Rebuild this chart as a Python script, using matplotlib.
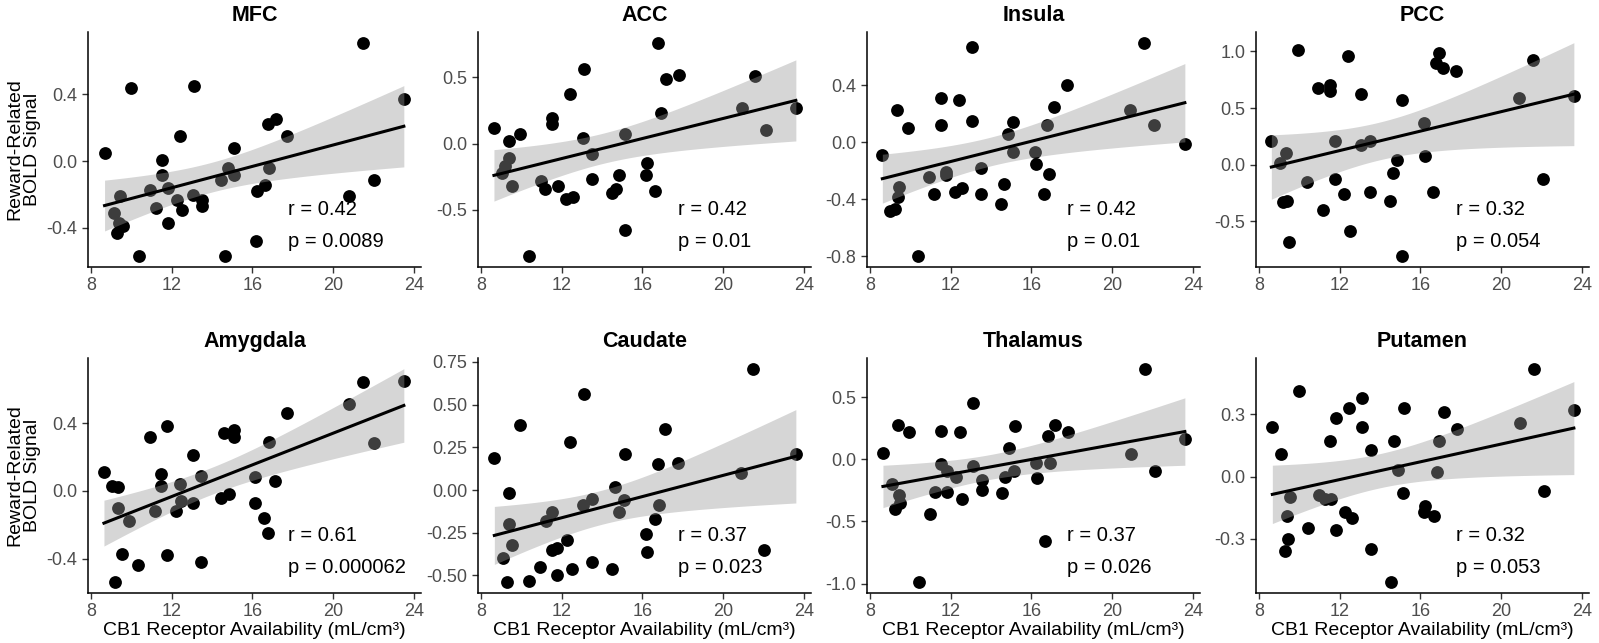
import numpy as np
import matplotlib
matplotlib.use("Agg")
import matplotlib.pyplot as plt
from matplotlib.ticker import FormatStrFormatter

plt.rcParams['font.family'] = ['Liberation Sans', 'DejaVu Sans']
plt.rcParams['axes.unicode_minus'] = False

titles = ["MFC", "ACC", "Insula", "PCC", "Amygdala", "Caudate", "Thalamus", "Putamen"]
r_text = ["0.42", "0.42", "0.42", "0.32", "0.61", "0.37", "0.37", "0.32"]
p_text = ["0.0089", "0.01", "0.01", "0.054", "0.000062", "0.023", "0.026", "0.053"]

mfc_x = [8.67,9.98,9.12,9.28,9.42,9.4,9.6,10.4,10.94,11.23,11.52,11.52,11.79,11.79,12.27,12.43,12.5,13.1,13.06,13.49,13.49,14.45,14.8,14.65,15.1,15.1,16.2,16.15,16.63,16.75,17.15,16.8,17.7,20.8,21.5,22.0,23.5]
mfc_y = [0.05,0.44,-0.31,-0.43,-0.21,-0.37,-0.39,-0.57,-0.17,-0.28,0.01,-0.08,-0.16,-0.37,-0.23,0.15,-0.29,0.45,-0.20,-0.23,-0.27,-0.11,-0.04,-0.57,0.08,-0.08,-0.18,-0.48,-0.14,0.22,0.25,-0.04,0.15,-0.21,0.71,-0.11,0.37]

acc_x = [8.64,9.93,9.37,9.4,9.2,9.05,9.53,10.4,10.95,11.19,11.51,11.54,11.79,12.23,12.43,12.56,13.1,13.07,13.52,13.52,14.48,14.67,14.83,15.13,15.12,16.2,16.17,16.64,16.9,16.78,17.15,17.8,20.93,21.57,22.1,23.6]
acc_y = [0.12,0.07,0.02,-0.11,-0.17,-0.22,-0.32,-0.85,-0.28,-0.34,0.19,0.15,-0.32,-0.42,0.37,-0.40,0.56,0.04,-0.08,-0.27,-0.37,-0.34,-0.24,0.07,-0.65,-0.15,-0.24,-0.36,0.23,0.76,0.49,0.52,0.27,0.51,0.10,0.27]

ins_x = [8.61,9.9,9.34,9.45,9.37,9.01,9.24,10.37,10.9,11.19,11.5,11.51,11.75,11.75,12.22,12.43,12.56,13.07,13.04,13.5,13.5,14.47,14.65,14.83,15.1,15.07,16.16,16.2,16.64,16.77,16.85,17.13,17.77,20.88,21.56,22.06,23.6]
ins_y = [-0.09,0.10,0.23,-0.31,-0.38,-0.48,-0.47,-0.80,-0.24,-0.36,0.31,0.12,-0.21,-0.23,-0.35,0.30,-0.32,0.67,0.15,-0.18,-0.36,-0.43,-0.29,0.06,0.14,-0.07,-0.07,-0.15,-0.36,0.12,-0.22,0.25,0.40,0.23,0.70,0.12,-0.01]

pcc_x = [8.61,9.93,9.34,9.05,9.2,9.4,9.5,10.37,10.9,11.19,11.5,11.54,11.75,11.75,12.22,12.43,12.51,13.07,13.04,13.5,13.5,14.47,14.65,14.83,15.1,15.07,16.16,16.2,16.62,16.77,16.9,17.13,17.77,20.88,21.56,22.06,23.6]
pcc_y = [0.21,1.01,0.10,0.01,-0.33,-0.32,-0.68,-0.15,0.68,-0.40,0.65,0.70,0.21,-0.13,-0.26,0.96,-0.59,0.62,0.17,0.21,-0.24,-0.32,-0.07,0.04,0.57,-0.81,0.37,0.08,-0.24,0.90,0.99,0.85,0.83,0.59,0.92,-0.13,0.61]

amy_x = [8.64,9.04,9.36,9.36,9.52,9.2,9.9,10.35,10.9,11.16,11.48,11.46,11.75,11.75,12.23,12.4,12.46,13.06,13.03,13.46,13.46,14.43,14.83,14.6,15.07,15.07,16.1,16.14,16.57,16.78,16.8,17.13,17.72,20.8,21.47,22.0,23.5]
amy_y = [0.11,0.03,0.02,-0.10,-0.37,-0.54,-0.18,-0.44,0.32,-0.12,0.10,0.03,0.38,-0.38,-0.12,0.04,-0.06,0.21,-0.07,0.09,-0.42,-0.04,-0.02,0.34,0.36,0.32,0.08,-0.07,-0.16,-0.25,0.29,0.06,0.46,0.51,0.64,0.28,0.65]

cau_x = [8.66,9.95,9.4,9.37,9.52,9.07,9.29,10.36,10.94,11.22,11.5,11.5,11.77,11.77,12.25,12.41,12.51,13.09,13.07,13.5,13.5,14.48,14.65,14.83,15.07,15.11,16.18,16.21,16.63,16.76,16.84,17.14,17.75,20.86,21.5,22.02,23.6]
cau_y = [0.19,0.38,-0.02,-0.20,-0.32,-0.40,-0.54,-0.53,-0.45,-0.18,-0.13,-0.35,-0.34,-0.50,-0.29,0.28,-0.46,0.56,-0.09,-0.05,-0.42,-0.46,0.02,-0.13,-0.06,0.21,-0.26,-0.36,-0.17,0.15,-0.09,0.36,0.16,0.10,0.71,-0.35,0.21]

tha_x = [8.64,9.95,9.37,9.1,9.42,9.5,9.26,10.42,10.95,11.22,11.54,11.54,11.83,11.8,12.27,12.44,12.56,13.12,13.09,13.56,13.56,14.52,14.7,14.89,15.17,15.13,16.21,16.26,16.66,16.82,16.9,17.18,17.82,20.93,21.6,22.1,23.6]
tha_y = [0.05,0.22,0.28,-0.20,-0.29,-0.35,-0.40,-0.99,-0.44,-0.26,0.23,-0.04,-0.09,-0.26,-0.14,0.22,-0.32,0.45,-0.05,-0.17,-0.25,-0.27,-0.14,0.09,0.27,-0.09,-0.03,-0.15,-0.66,0.19,-0.03,0.28,0.22,0.04,0.73,-0.09,0.16]

put_x = [8.66,9.98,9.1,9.53,9.39,9.45,9.29,10.42,10.95,11.27,11.54,11.59,11.83,11.8,12.27,12.44,12.6,13.12,13.09,13.56,13.56,14.52,14.7,14.89,15.17,15.13,16.21,16.18,16.66,16.9,16.82,17.18,17.82,20.93,21.6,22.1,23.6]
put_y = [0.24,0.41,0.11,-0.10,-0.19,-0.30,-0.36,-0.25,-0.09,-0.11,0.17,-0.11,0.28,-0.26,-0.17,0.33,-0.20,0.38,0.24,0.13,-0.35,-0.51,0.17,0.03,0.33,-0.08,-0.14,-0.17,-0.19,0.17,0.02,0.31,0.23,0.26,0.52,-0.07,0.32]

xs = [mfc_x, acc_x, ins_x, pcc_x, amy_x, cau_x, tha_x, put_x]
ys = [mfc_y, acc_y, ins_y, pcc_y, amy_y, cau_y, tha_y, put_y]
yticks = [[-0.4,0,0.4],[-0.5,0,0.5],[-0.8,-0.4,0,0.4],[-0.5,0,0.5,1.0],
          [-0.4,0,0.4],[-0.5,-0.25,0,0.25,0.5,0.75],[-1.0,-0.5,0,0.5],[-0.3,0,0.3]]

fig = plt.figure(figsize=(15.99, 6.43), dpi=100)
W, H = 1599, 643
lefts = [88, 478, 867, 1256]
tops = [32, 358]
aw, ah = 333, 235

for i in range(8):
    row, col = divmod(i, 4)
    ax = fig.add_axes([lefts[col]/W, 1-(tops[row]+ah)/H, aw/W, ah/H])
    x = np.array(xs[i]); y = np.array(ys[i])
    ax.scatter(x, y, s=85, color='black', zorder=2, linewidths=0)
    n = len(x)
    b1, b0 = np.polyfit(x, y, 1)
    xg = np.linspace(x.min(), x.max(), 100)
    yg = b0 + b1*xg
    res = y - (b0 + b1*x)
    s = np.sqrt(np.sum(res**2)/(n-2))
    se = s*np.sqrt(1/n + (xg-x.mean())**2/np.sum((x-x.mean())**2))
    t = 2.03
    ax.fill_between(xg, yg-t*se, yg+t*se, color='#999999', alpha=0.4, lw=0, zorder=3)
    ax.plot(xg, yg, color='black', lw=2.2, zorder=4)
    ax.set_xticks([8,12,16,20,24])
    ax.set_yticks(yticks[i])
    ax.yaxis.set_major_formatter(FormatStrFormatter('%.2f' if i == 5 else '%.1f'))
    ax.set_xlim(7.85, 24.35)
    for sp in ['top','right']:
        ax.spines[sp].set_visible(False)
    for sp in ['left','bottom']:
        ax.spines[sp].set_linewidth(1.1)
    ax.tick_params(labelsize=13, colors='#4d4d4d', length=4, width=1)
    ax.tick_params(axis='both', which='both', color='#333333')
    ax.set_title(titles[i], fontsize=15.5, fontweight='bold', pad=8)
    ax.text(0.6, 0.245, "r = " + r_text[i], transform=ax.transAxes, fontsize=14.5, va='center')
    ax.text(0.6, 0.11, "p = " + p_text[i], transform=ax.transAxes, fontsize=14.5, va='center')
    if col == 0:
        ax.set_ylabel("Reward-Related\nBOLD Signal", fontsize=14, labelpad=4, linespacing=1.05)
    if row == 1:
        ax.set_xlabel("CB1 Receptor Availability (mL/cm³)", fontsize=14, labelpad=1)

fig.savefig("out.png", dpi=100)
